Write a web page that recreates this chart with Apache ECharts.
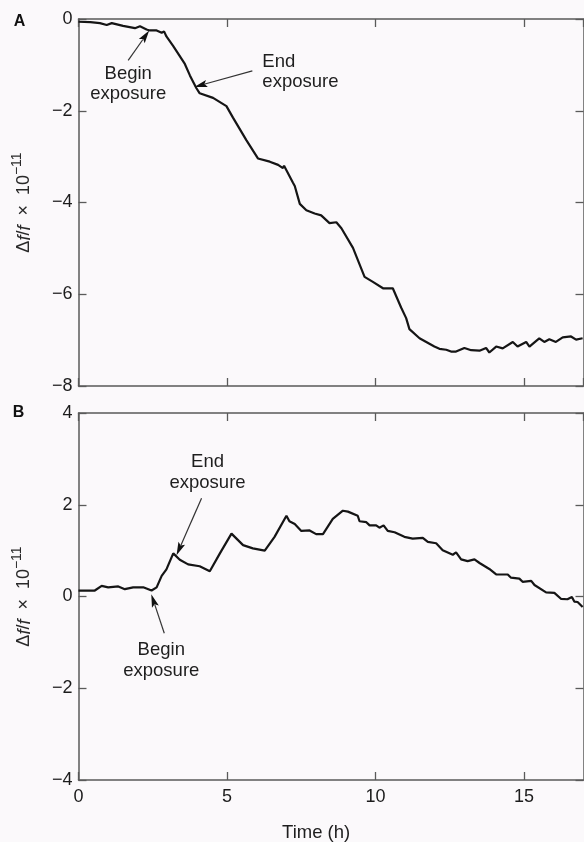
<!DOCTYPE html>
<html>
<head>
<meta charset="utf-8">
<script src="https://cdn.jsdelivr.net/npm/echarts@6/dist/echarts.min.js"></script>
<style>
html,body{margin:0;padding:0;background:#fbf9fb;}
#c{width:584px;height:842px;}
</style>
</head>
<body>
<div id="c"></div>
<script>
// ---- Data (time in hours, Δf/f × 10^-11) ----
var timeA = [0.0,0.4,0.72,0.95,1.12,1.5,1.9,2.07,2.29,2.4,2.63,2.8,2.88,2.96,3.19,3.47,3.58,3.75,3.97,4.08,4.53,4.98,5.2,5.65,6.04,6.44,6.72,6.88,6.92,7.22,7.28,7.45,7.67,7.95,8.17,8.45,8.68,8.85,9.24,9.63,9.91,10.25,10.58,10.86,11.03,11.14,11.48,11.98,12.15,12.38,12.54,12.71,12.99,13.22,13.5,13.72,13.83,14.06,14.28,14.62,14.78,15.07,15.18,15.51,15.68,15.85,16.07,16.3,16.58,16.75,16.97];
var valueA = [-0.06,-0.07,-0.09,-0.13,-0.09,-0.15,-0.2,-0.16,-0.23,-0.25,-0.25,-0.3,-0.27,-0.38,-0.59,-0.87,-0.98,-1.23,-1.51,-1.62,-1.72,-1.9,-2.15,-2.64,-3.04,-3.11,-3.18,-3.25,-3.2,-3.57,-3.64,-4.03,-4.17,-4.24,-4.28,-4.45,-4.43,-4.56,-4.99,-5.62,-5.73,-5.87,-5.87,-6.29,-6.52,-6.76,-6.96,-7.14,-7.19,-7.21,-7.25,-7.25,-7.17,-7.22,-7.23,-7.17,-7.27,-7.14,-7.18,-7.04,-7.14,-7.04,-7.14,-6.96,-7.04,-6.98,-7.04,-6.94,-6.92,-6.99,-6.96];

var timeB = [0.0,0.55,0.78,1.0,1.34,1.56,1.84,2.18,2.46,2.63,2.8,2.96,3.19,3.41,3.69,4.08,4.42,4.76,5.15,5.54,5.87,6.27,6.6,7.0,7.1,7.28,7.5,7.78,8.0,8.23,8.56,8.9,9.07,9.4,9.46,9.69,9.8,10.02,10.13,10.27,10.41,10.64,10.97,11.25,11.59,11.76,12.04,12.26,12.6,12.71,12.88,13.1,13.33,13.5,13.83,14.06,14.45,14.56,14.84,14.95,15.24,15.35,15.74,16.02,16.24,16.46,16.61,16.69,16.8,16.97];
var valueB = [0.13,0.13,0.23,0.2,0.22,0.16,0.2,0.2,0.13,0.2,0.45,0.59,0.94,0.8,0.7,0.66,0.55,0.94,1.37,1.12,1.05,1.0,1.3,1.76,1.64,1.58,1.43,1.44,1.36,1.36,1.69,1.87,1.85,1.76,1.64,1.62,1.55,1.55,1.5,1.55,1.43,1.4,1.3,1.26,1.28,1.19,1.16,1.01,0.91,0.96,0.81,0.77,0.81,0.73,0.6,0.48,0.48,0.41,0.39,0.32,0.34,0.25,0.09,0.08,-0.05,-0.06,-0.01,-0.11,-0.12,-0.23];

var xTicks = [0, 5, 10, 15];
var yTicksA = [0, -2, -4, -6, -8];
var yTicksB = [4, 2, 0, -2, -4];
var panelLabels = ['A', 'B'];
var xTitle = 'Time (h)';
var annotationText = ['Begin', 'exposure', 'End', 'exposure'];

function pairs(xs, ys){ return xs.map(function(x,i){ return [x, ys[i]]; }); }
function minus(v){ return String(v).replace('-', '\u2212'); }

var FONT = '"Liberation Sans", Arial, sans-serif';
var AX = '#5a5a5a';
var INK = '#151515';

var gridA = {left:78.5, top:19, right:0.5, height:367};
var gridB = {left:78.5, top:413, right:0.5, height:367};

function xAxisDef(gi, pos, showLabels){
  return {
    type:'value', gridIndex:gi, position:pos, min:xTicks[0], max:17, interval:5,
    axisLine:{show:true, onZero:false, lineStyle:{color:AX, width:1.5}},
    axisTick:{show:true, inside:true, length:8, lineStyle:{color:AX, width:1.3}},
    axisLabel:{show:showLabels, showMaxLabel:false, margin:8, fontSize:18, color:'#1c1c1c', fontFamily:FONT},
    splitLine:{show:false}
  };
}
function yAxisDef(gi, pos, ticks, showLabels, withName){
  var d = {
    type:'value', gridIndex:gi, position:pos,
    min:ticks[ticks.length-1], max:ticks[0], interval:2,
    axisLine:{show:true, onZero:false, lineStyle:{color:AX, width:1.5}},
    axisTick:{show:true, inside:true, length:8, lineStyle:{color:AX, width:1.3}},
    axisLabel:{show:showLabels, margin:6, fontSize:18, color:'#1c1c1c', fontFamily:FONT, formatter:minus},
    splitLine:{show:false}
  };
  if (withName){
    d.name = '{n|\u0394}{i|f}{n|/}{i|f}{n|  \u00d7  10}{s|\u221211}';
    d.nameLocation = 'middle';
    d.nameGap = 45;
    d.nameTextStyle = {
      fontFamily:FONT, fontSize:18, color:'#2a2a2a',
      rich:{
        n:{fontFamily:FONT, fontSize:18, color:'#2a2a2a', lineHeight:23, verticalAlign:'bottom'},
        i:{fontFamily:FONT, fontSize:18, fontStyle:'italic', color:'#2a2a2a', lineHeight:23, verticalAlign:'bottom'},
        s:{fontFamily:FONT, fontSize:14, color:'#2a2a2a', lineHeight:23, verticalAlign:'top'}
      }
    };
  }
  return d;
}

var chart = echarts.init(document.getElementById('c'), null, {renderer:'canvas'});
chart.setOption({
  backgroundColor:'#fbf9fb',
  animation:false,
  grid:[gridA, gridB],
  xAxis:[
    xAxisDef(0,'bottom',false), xAxisDef(0,'top',false),
    xAxisDef(1,'bottom',true), xAxisDef(1,'top',false)
  ],
  yAxis:[
    yAxisDef(0,'left',yTicksA,true,true), yAxisDef(0,'right',yTicksA,false,false),
    yAxisDef(1,'left',yTicksB,true,true), yAxisDef(1,'right',yTicksB,false,false)
  ],
  series:[
    {type:'line', xAxisIndex:0, yAxisIndex:0, data:pairs(timeA,valueA), showSymbol:false, symbol:'none',
     lineStyle:{color:INK, width:2.2}, silent:true},
    {type:'line', xAxisIndex:2, yAxisIndex:2, data:pairs(timeB,valueB), showSymbol:false, symbol:'none',
     lineStyle:{color:INK, width:2.2}, silent:true}
  ]
});

// ---- Annotations (arrow tips anchored to data coordinates) ----
var annotations = [
  {grid:0, tip:[2.38,-0.25], tail:[-21,30], lines:[annotationText[0],annotationText[1]], tx:-21, ty:43, align:'center'},
  {grid:0, tip:[3.9,-1.48], tail:[58,-16], lines:[annotationText[2],annotationText[3]], tx:68, ty:-25, align:'left'},
  {grid:1, tip:[3.3,0.9], tail:[25,-57], lines:[annotationText[2],annotationText[3]], tx:31, ty:-93, align:'center'},
  {grid:1, tip:[2.45,0.05], tail:[13,39], lines:[annotationText[0],annotationText[1]], tx:10, ty:56, align:'center'}
];

var g = [];
annotations.forEach(function(a){
  var p = chart.convertToPixel({gridIndex:a.grid}, a.tip);
  var tx = p[0] + a.tail[0], ty = p[1] + a.tail[1];
  var dx = p[0]-tx, dy = p[1]-ty, L = Math.sqrt(dx*dx+dy*dy);
  var ux = dx/L, uy = dy/L, hl = 13, hw = 3.6;
  var bx = p[0]-ux*hl, by = p[1]-uy*hl;
  g.push({type:'line', shape:{x1:tx, y1:ty, x2:bx+ux*2, y2:by+uy*2}, style:{stroke:'#333', lineWidth:1.2}, silent:true});
  g.push({type:'polygon', shape:{points:[[p[0],p[1]],[bx-uy*hw, by+ux*hw],[bx+ux*2.5, by+uy*2.5],[bx+uy*hw, by-ux*hw]]}, style:{fill:'#111'}, silent:true});
  a.lines.forEach(function(t, k){
    g.push({type:'text', x:p[0]+a.tx, y:p[1]+a.ty+k*20.5,
      style:{text:t, font:'18.5px '+FONT, fill:'#1e1e1e', textAlign:a.align, textVerticalAlign:'middle'}, silent:true});
  });
});
// panel letters
g.push({type:'text', x:19.5, y:22, style:{text:panelLabels[0], font:'bold 16px '+FONT, fill:'#111', textAlign:'center', textVerticalAlign:'middle'}, silent:true});
g.push({type:'text', x:18.5, y:413, style:{text:panelLabels[1], font:'bold 16px '+FONT, fill:'#111', textAlign:'center', textVerticalAlign:'middle'}, silent:true});
// x title centred under the time axis
var xt = chart.convertToPixel({gridIndex:1}, [8, -4]);
g.push({type:'text', x:xt[0], y:833, style:{text:xTitle, font:'18.5px '+FONT, fill:'#1e1e1e', textAlign:'center', textVerticalAlign:'middle'}, silent:true});

chart.setOption({graphic:g});
</script>
</body>
</html>
